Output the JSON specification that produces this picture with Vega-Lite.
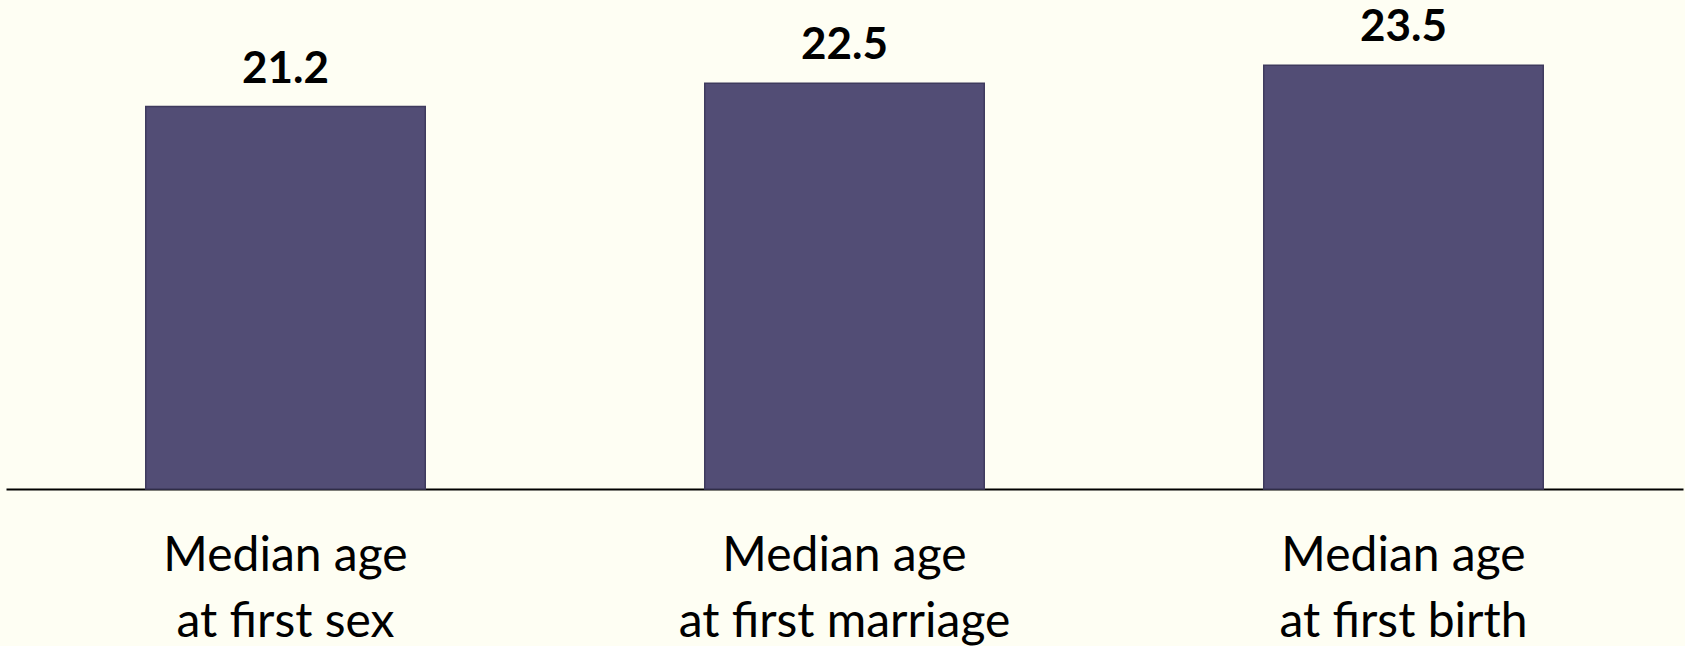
{
  "$schema": "https://vega.github.io/schema/vega-lite/v6.json",
  "autosize": {"type": "none"},
  "padding": {"left": 6, "top": 2, "right": 2, "bottom": 157},
  "width": 1677,
  "height": 487,
  "background": "#FEFEF3",
  "config": {"view": {"stroke": null}},
  "data": {
    "values": [
      {"measure": "Median age|at first sex", "age": 21.2},
      {"measure": "Median age|at first marriage", "age": 22.5},
      {"measure": "Median age|at first birth", "age": 23.5}
    ]
  },
  "encoding": {
    "x": {
      "field": "measure",
      "type": "nominal",
      "sort": null,
      "scale": {"paddingInner": 0.5, "paddingOuter": 0.25},
      "axis": {
        "title": null,
        "labelAngle": 0,
        "ticks": false,
        "domainColor": "#000000",
        "domainWidth": 2,
        "labelFont": "Lato",
        "labelFontSize": 48,
        "labelColor": "#000000",
        "labelLineHeight": 66,
        "labelPadding": 43,
        "labelLimit": 0,
        "labelExpr": "split(datum.label, '|')"
      }
    },
    "y": {
      "field": "age",
      "type": "quantitative",
      "scale": {"domain": [0, 27], "nice": false},
      "axis": null
    }
  },
  "layer": [
    {
      "mark": {"type": "bar", "color": "#524D75", "stroke": "#3F3B5E", "strokeWidth": 1.5}
    },
    {
      "mark": {"type": "text", "baseline": "alphabetic", "dy": -24, "font": "Lato", "fontWeight": "bold", "fontSize": 44, "color": "#000000"},
      "encoding": {"text": {"field": "age", "type": "quantitative", "format": ".1f"}}
    }
  ]
}
